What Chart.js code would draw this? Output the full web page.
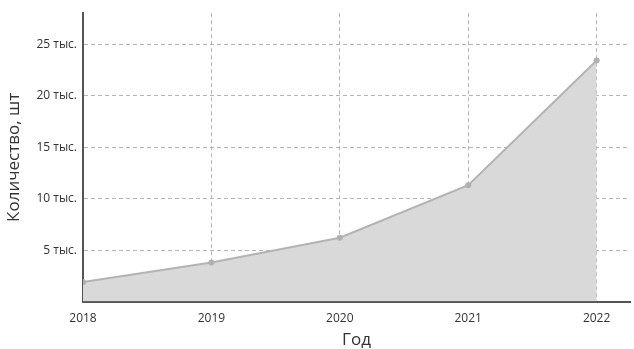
<!DOCTYPE html>
<html>
<head>
<meta charset="utf-8">
<script src="https://cdn.jsdelivr.net/npm/chart.js@4"></script>
<style>
  html, body { margin: 0; padding: 0; background: #fff; }
  #wrap { width: 634px; height: 349px; }
</style>
</head>
<body>
<div id="wrap"><canvas id="myChart"></canvas></div>
<script>
const years = [2018, 2019, 2020, 2021, 2022];
const amounts = [1900, 3800, 6200, 11300, 23400];
const yTicks = [0, 5000, 10000, 15000, 20000, 25000];

const ctx = document.getElementById('myChart').getContext('2d');

const myChart = new Chart(ctx, {
    type: 'line',
    data: {
        datasets: [{
            label: 'Количество',
            data: years.map((y, i) => ({ x: y, y: amounts[i] })),
            borderColor: '#b3b3b3',
            borderWidth: 2,
            backgroundColor: '#d9d9d9',
            fill: 'origin',
            pointRadius: 3,
            pointBackgroundColor: '#b0b0b0',
            pointBorderWidth: 0,
            tension: 0
        }]
    },
    options: {
        responsive: true,
        maintainAspectRatio: false,
        animation: false,
        layout: { padding: { top: 12, right: 2, left: 4, bottom: 0 } },
        plugins: {
            legend: { display: false },
            tooltip: { enabled: false }
        },
        scales: {
            x: {
                type: 'linear',
                min: 2018,
                max: 2022.26,
                afterBuildTicks: (axis) => { axis.ticks = years.map(v => ({ value: v })); },
                ticks: {
                    callback: (v) => String(v),
                    color: '#333',
                    font: { family: 'Open Sans', size: 12 },
                    padding: 10,
                    maxRotation: 0
                },
                grid: {
                    color: '#b5b5b5',
                    drawTicks: false,
                    lineWidth: 1
                },
                border: { color: '#555', width: 2, dash: [4, 3] },
                title: {
                    display: true,
                    text: 'Год',
                    color: '#333',
                    font: { family: 'Open Sans', size: 17, lineHeight: 1 },
                    padding: { top: -4, bottom: 0 }
                }
            },
            y: {
                min: 0,
                max: 28000,
                afterBuildTicks: (axis) => { axis.ticks = yTicks.map(v => ({ value: v })); },
                ticks: {
                    callback: (v) => v === 0 ? '' : (v / 1000) + ' тыс.',
                    color: '#333',
                    font: { family: 'Open Sans', size: 12 },
                    padding: 6
                },
                grid: {
                    color: '#b5b5b5',
                    drawTicks: false,
                    lineWidth: 1
                },
                border: { color: '#555', width: 2, dash: [4, 3] },
                title: {
                    display: true,
                    text: 'Количество, шт',
                    color: '#333',
                    font: { family: 'Open Sans', size: 17 },
                    padding: { top: 0, bottom: 6 }
                }
            }
        }
    }
});
</script>
</body>
</html>
